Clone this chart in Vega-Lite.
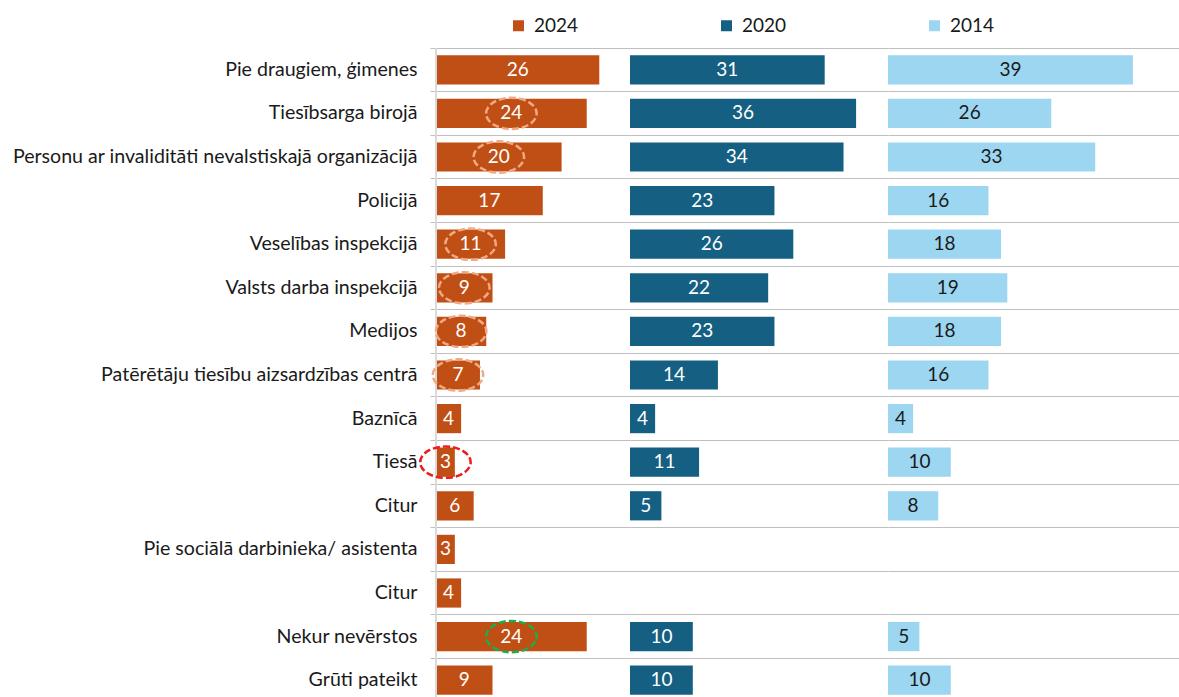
{
  "$schema": "https://vega.github.io/schema/vega-lite/v6.json",
  "autosize": {"type": "pad"},
  "padding": {"left": 12, "top": 16, "right": 0, "bottom": 0},
  "background": "white",
  "config": {
    "view": {"stroke": null},
    "font": "Lato",
    "concat": {"spacing": 0}
  },
  "data": {
    "values": [
      {"cat": "Pie draugiem, ģimenes", "year": "2024", "value": 26},
      {"cat": "Tiesībsarga birojā", "year": "2024", "value": 24, "note": "drop"},
      {"cat": "Personu ar invaliditāti nevalstiskajā organizācijā", "year": "2024", "value": 20, "note": "drop"},
      {"cat": "Policijā", "year": "2024", "value": 17},
      {"cat": "Veselības inspekcijā", "year": "2024", "value": 11, "note": "drop"},
      {"cat": "Valsts darba inspekcijā", "year": "2024", "value": 9, "note": "drop"},
      {"cat": "Medijos", "year": "2024", "value": 8, "note": "drop"},
      {"cat": "Patērētāju tiesību aizsardzības centrā", "year": "2024", "value": 7, "note": "drop"},
      {"cat": "Baznīcā", "year": "2024", "value": 4},
      {"cat": "Tiesā", "year": "2024", "value": 3, "note": "lowest"},
      {"cat": "Citur", "year": "2024", "value": 6},
      {"cat": "Pie sociālā darbinieka/ asistenta", "year": "2024", "value": 3},
      {"cat": "Citur ", "year": "2024", "value": 4},
      {"cat": "Nekur nevērstos", "year": "2024", "value": 24, "note": "rise"},
      {"cat": "Grūti pateikt", "year": "2024", "value": 9},
      {"cat": "Pie draugiem, ģimenes", "year": "2020", "value": 31},
      {"cat": "Tiesībsarga birojā", "year": "2020", "value": 36},
      {"cat": "Personu ar invaliditāti nevalstiskajā organizācijā", "year": "2020", "value": 34},
      {"cat": "Policijā", "year": "2020", "value": 23},
      {"cat": "Veselības inspekcijā", "year": "2020", "value": 26},
      {"cat": "Valsts darba inspekcijā", "year": "2020", "value": 22},
      {"cat": "Medijos", "year": "2020", "value": 23},
      {"cat": "Patērētāju tiesību aizsardzības centrā", "year": "2020", "value": 14},
      {"cat": "Baznīcā", "year": "2020", "value": 4},
      {"cat": "Tiesā", "year": "2020", "value": 11},
      {"cat": "Citur", "year": "2020", "value": 5},
      {"cat": "Nekur nevērstos", "year": "2020", "value": 10},
      {"cat": "Grūti pateikt", "year": "2020", "value": 10},
      {"cat": "Pie draugiem, ģimenes", "year": "2014", "value": 39},
      {"cat": "Tiesībsarga birojā", "year": "2014", "value": 26},
      {"cat": "Personu ar invaliditāti nevalstiskajā organizācijā", "year": "2014", "value": 33},
      {"cat": "Policijā", "year": "2014", "value": 16},
      {"cat": "Veselības inspekcijā", "year": "2014", "value": 18},
      {"cat": "Valsts darba inspekcijā", "year": "2014", "value": 19},
      {"cat": "Medijos", "year": "2014", "value": 18},
      {"cat": "Patērētāju tiesību aizsardzības centrā", "year": "2014", "value": 16},
      {"cat": "Baznīcā", "year": "2014", "value": 4},
      {"cat": "Tiesā", "year": "2014", "value": 10},
      {"cat": "Citur", "year": "2014", "value": 8},
      {"cat": "Nekur nevērstos", "year": "2014", "value": 5},
      {"cat": "Grūti pateikt", "year": "2014", "value": 10}
    ]
  },
  "hconcat": [
    {
      "width": 194,
      "height": 649,
      "transform": [{"filter": "datum.year == '2024'"}],
      "layer": [
        {
          "mark": {"type": "bar", "height": {"band": 0.67}},
          "encoding": {
            "y": {
              "field": "cat", "type": "nominal",
              "scale": {"domain": ["Pie draugiem, ģimenes", "Tiesībsarga birojā", "Personu ar invaliditāti nevalstiskajā organizācijā", "Policijā", "Veselības inspekcijā", "Valsts darba inspekcijā", "Medijos", "Patērētāju tiesību aizsardzības centrā", "Baznīcā", "Tiesā", "Citur", "Pie sociālā darbinieka/ asistenta", "Citur ", "Nekur nevērstos", "Grūti pateikt"], "paddingInner": 0, "paddingOuter": 0, "range": [0, 654]},
              "axis": {"title": null, "domain": false, "grid": true, "gridColor": "#BFBFBF", "bandPosition": 0, "ticks": true, "tickSize": 6, "tickColor": "#BFBFBF", "labelPadding": 13, "labelFontSize": 19.6, "labelFont": "Lato", "labelColor": "#1a1a1a", "labelLimit": 600, "labelExpr": "trim(datum.label)"}
            },
            "x": {"field": "value", "type": "quantitative", "scale": {"domain": [0, 30.89]}, "axis": null},
            "color": {
              "field": "year", "type": "nominal",
              "scale": {"domain": ["2024", "2020", "2014"], "range": ["#C04F15", "#156082", "#9DD6F0"]},
              "legend": {"orient": "none", "legendX": 73, "legendY": -32, "direction": "horizontal", "title": null, "symbolType": "square", "symbolSize": 121, "symbolStrokeWidth": 0, "labelFontSize": 19, "labelFont": "Lato", "labelColor": "#1a1a1a", "labelOffset": 6, "columnPadding": 138}
            }
          }
        },
        {
          "mark": {"type": "rule", "color": "#D9D9D9", "strokeWidth": 1},
          "encoding": {"x": {"datum": 0, "type": "quantitative", "scale": {"domain": [0, 30.89]}, "axis": null}}
        },
        {
          "mark": {"type": "text", "color": "white", "fontSize": 19, "font": "Lato", "baseline": "middle"},
          "encoding": {
            "y": {"field": "cat", "type": "nominal"},
            "x": {"field": "value", "type": "quantitative", "scale": {"domain": [0, 61.78]}, "axis": null},
            "text": {"field": "value", "type": "quantitative"}
          }
        },
        {
          "transform": [{"filter": "datum.note != null"}],
          "mark": {"type": "point", "shape": "M-1,0A1,0.62,0,1,1,1,0A1,0.62,0,1,1,-1,0Z", "size": 2550, "filled": false, "strokeWidth": 2.5, "strokeDash": [7, 3], "opacity": 1},
          "encoding": {
            "y": {"field": "cat", "type": "nominal"},
            "x": {"field": "value", "type": "quantitative", "scale": {"domain": [0, 61.78]}, "axis": null},
            "stroke": {"field": "note", "type": "nominal", "scale": {"domain": ["drop", "lowest", "rise"], "range": ["#F1A983", "#EE1C1C", "#1AAF48"]}, "legend": null}
          }
        }
      ],
      "resolve": {"scale": {"x": "independent"}}
    },
    {
      "width": 258,
      "height": 649,
      "transform": [{"filter": "datum.year == '2020'"}],
      "layer": [
        {
          "mark": {"type": "bar", "height": {"band": 0.67}},
          "encoding": {
            "y": {
              "field": "cat", "type": "nominal",
              "scale": {"domain": ["Pie draugiem, ģimenes", "Tiesībsarga birojā", "Personu ar invaliditāti nevalstiskajā organizācijā", "Policijā", "Veselības inspekcijā", "Valsts darba inspekcijā", "Medijos", "Patērētāju tiesību aizsardzības centrā", "Baznīcā", "Tiesā", "Citur", "Pie sociālā darbinieka/ asistenta", "Citur ", "Nekur nevērstos", "Grūti pateikt"], "paddingInner": 0, "paddingOuter": 0, "range": [0, 654]},
              "axis": {"title": null, "domain": false, "grid": true, "gridColor": "#BFBFBF", "bandPosition": 0, "ticks": false, "labels": false}
            },
            "x": {"field": "value", "type": "quantitative", "scale": {"domain": [0, 41.08]}, "axis": null},
            "color": {"field": "year", "type": "nominal", "scale": {"domain": ["2024", "2020", "2014"], "range": ["#C04F15", "#156082", "#9DD6F0"]}}
          }
        },
        {
          "mark": {"type": "text", "color": "white", "fontSize": 19, "font": "Lato", "baseline": "middle"},
          "encoding": {
            "y": {"field": "cat", "type": "nominal"},
            "x": {"field": "value", "type": "quantitative", "scale": {"domain": [0, 82.16]}, "axis": null},
            "text": {"field": "value", "type": "quantitative"}
          }
        }
      ],
      "resolve": {"scale": {"x": "independent"}}
    },
    {
      "width": 291,
      "height": 649,
      "transform": [{"filter": "datum.year == '2014'"}],
      "layer": [
        {
          "mark": {"type": "bar", "height": {"band": 0.67}},
          "encoding": {
            "y": {
              "field": "cat", "type": "nominal",
              "scale": {"domain": ["Pie draugiem, ģimenes", "Tiesībsarga birojā", "Personu ar invaliditāti nevalstiskajā organizācijā", "Policijā", "Veselības inspekcijā", "Valsts darba inspekcijā", "Medijos", "Patērētāju tiesību aizsardzības centrā", "Baznīcā", "Tiesā", "Citur", "Pie sociālā darbinieka/ asistenta", "Citur ", "Nekur nevērstos", "Grūti pateikt"], "paddingInner": 0, "paddingOuter": 0, "range": [0, 654]},
              "axis": {"title": null, "domain": false, "grid": true, "gridColor": "#BFBFBF", "bandPosition": 0, "ticks": false, "labels": false}
            },
            "x": {"field": "value", "type": "quantitative", "scale": {"domain": [0, 46.34]}, "axis": null},
            "color": {"field": "year", "type": "nominal", "scale": {"domain": ["2024", "2020", "2014"], "range": ["#C04F15", "#156082", "#9DD6F0"]}}
          }
        },
        {
          "mark": {"type": "text", "color": "#1a1a1a", "fontSize": 19, "font": "Lato", "baseline": "middle"},
          "encoding": {
            "y": {"field": "cat", "type": "nominal"},
            "x": {"field": "value", "type": "quantitative", "scale": {"domain": [0, 92.68]}, "axis": null},
            "text": {"field": "value", "type": "quantitative"}
          }
        }
      ],
      "resolve": {"scale": {"x": "independent"}}
    }
  ]
}
